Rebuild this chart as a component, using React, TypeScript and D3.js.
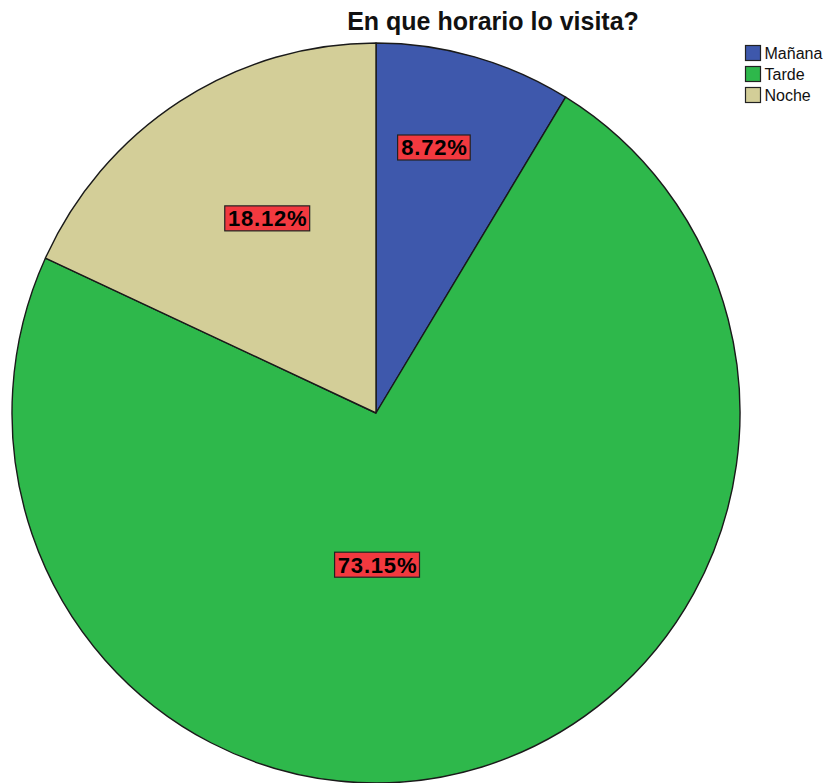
import React from "react";
import * as d3 from "d3";

const categories = ["Mañana", "Tarde", "Noche"];
const values = [8.72, 73.15, 18.12];
const valueLabels = ["8.72%", "73.15%", "18.12%"];
const colors = ["#3e58ac", "#2eb84b", "#d3ce98"];
const title = "En que horario lo visita?";

// label placement (polar, relative to pie centre): angle in degrees clockwise from top, radius fraction
const labelAngles = [12.5, 179.6, -29.6];
const labelRadii = [0.735, 0.41, 0.605];

const W = 830;
const H = 783;
const cx = 376;
const cy = 413;
const R = 364;
const sy = 370 / 364;

export default function App() {
  const pie = d3.pie<number>().sort(null).value((d) => d).startAngle(0).endAngle(2 * Math.PI);
  const arcs = pie(values);
  const arcGen = d3.arc<d3.PieArcDatum<number>>().innerRadius(0).outerRadius(R);

  const labelFont = 22;
  return (
    <svg
      width={W}
      height={H}
      style={{ position: "absolute", left: 0, top: 0, background: "#fff" }}
      fontFamily="'Liberation Sans', Arial, sans-serif"
    >
      <g transform={`translate(${cx},${cy}) scale(1,${sy})`}>
        {arcs.map((a, i) => (
          <path
            key={i}
            d={arcGen(a) || ""}
            fill={colors[i]}
            stroke="#1a1a1a"
            strokeWidth={1.4}
            strokeLinejoin="round"
            vectorEffect="non-scaling-stroke"
          />
        ))}
      </g>
      {arcs.map((a, i) => {
        const ang = (labelAngles[i] * Math.PI) / 180;
        const r = labelRadii[i] * R;
        const x = cx + r * Math.sin(ang);
        const y = cy - r * Math.cos(ang) * sy;
        const txt = valueLabels[i];
        const tw = txt.length * 0.56 * labelFont + 2;
        const bw = tw + 9;
        const bh = 25;
        return (
          <g key={"l" + i}>
            <rect x={x - bw / 2} y={y - bh / 2} width={bw} height={bh} fill="#f2393f" stroke="#222" strokeWidth={1.2} />
            <text
              x={x + 0.5}
              y={y + 8}
              textAnchor="middle"
              fontSize={labelFont}
              fontWeight="bold"
              letterSpacing={0.8}
              fill="#000"
            >
              {txt}
            </text>
          </g>
        );
      })}
      <text x={493} y={30} textAnchor="middle" fontSize={25} fontWeight="bold" fill="#111">
        {title}
      </text>
      {categories.map((c, i) => (
        <g key={"lg" + i} transform={`translate(745.5,${45.5 + i * 21})`}>
          <rect width={15} height={15} fill={colors[i]} stroke="#222" strokeWidth={1.2} />
          <text x={19} y={13} fontSize={16} fill="#111">
            {c}
          </text>
        </g>
      ))}
    </svg>
  );
}
